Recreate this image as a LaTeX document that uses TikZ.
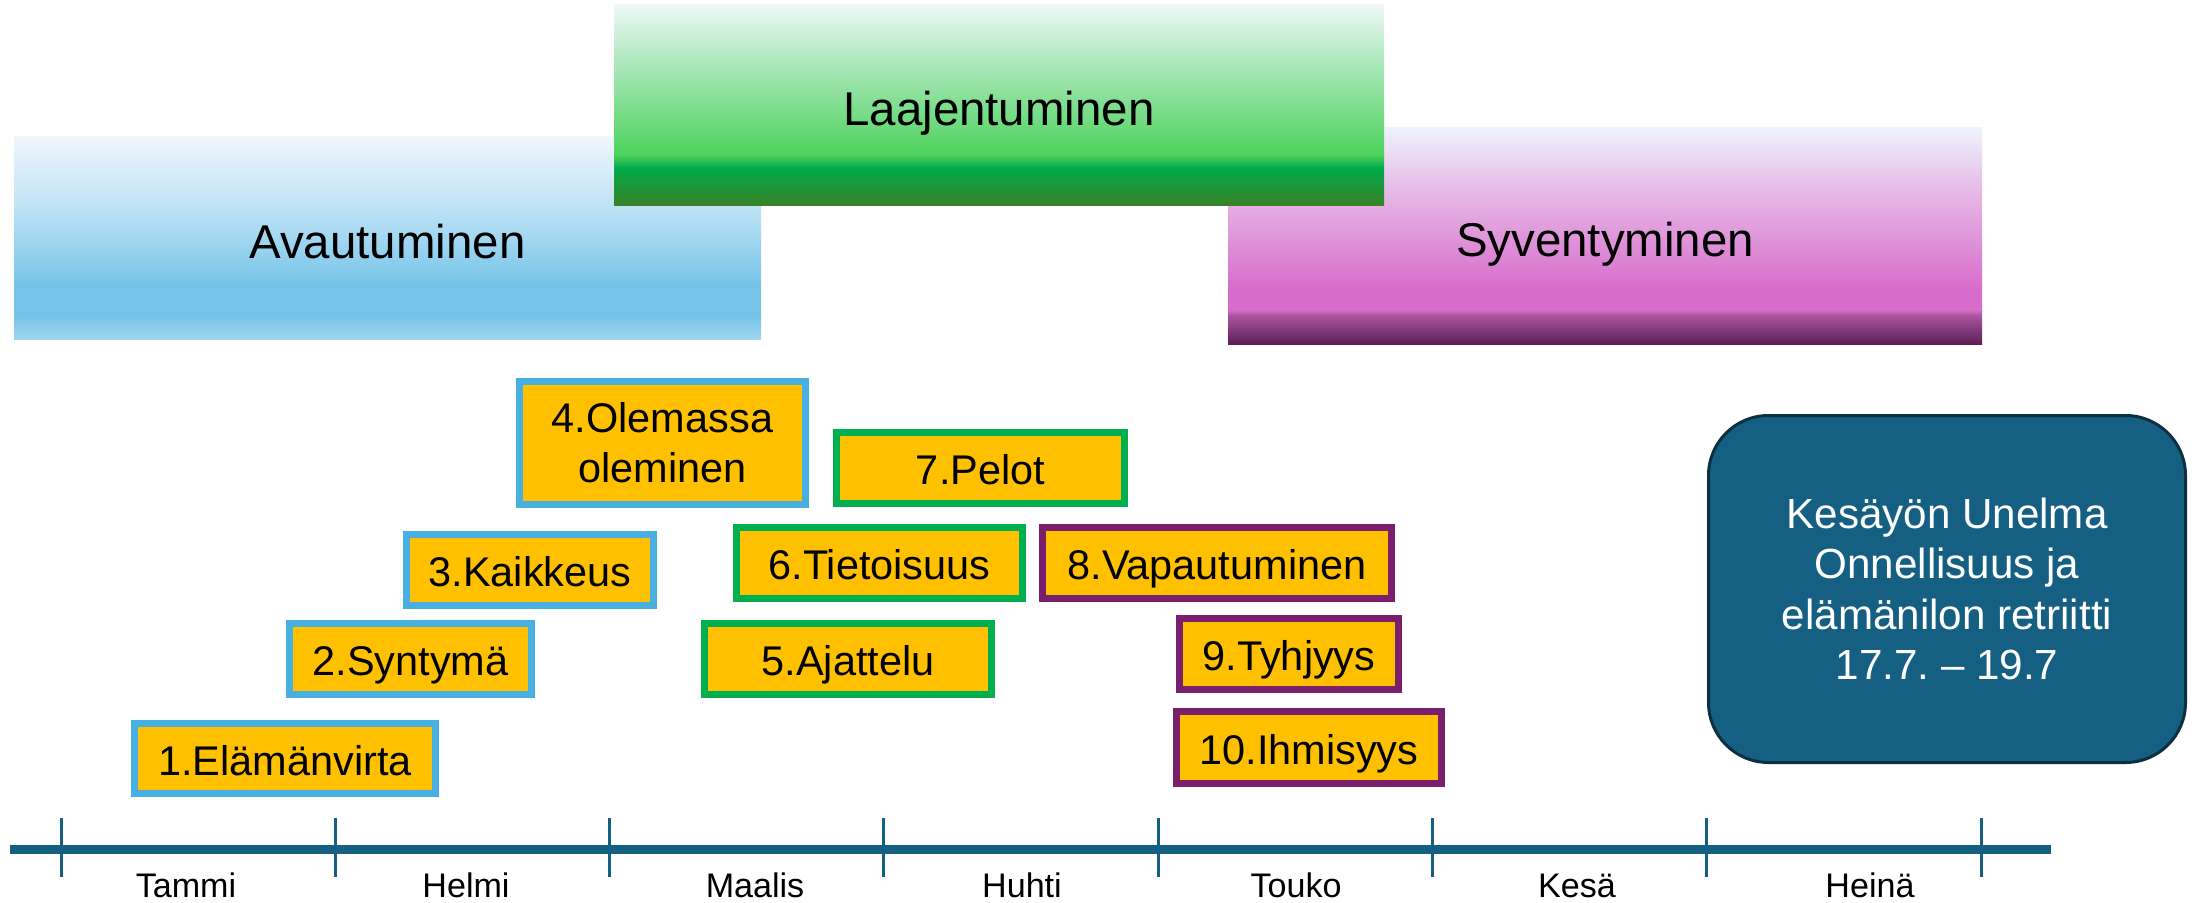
\documentclass[tikz,border=0pt]{standalone}
\usepackage{fontspec}
\setmainfont{Liberation Sans}
\usepackage{xcolor}
\usepackage{tikz}
\usetikzlibrary{shadings}
\frenchspacing

\definecolor{kulta}{HTML}{FFC000}
\definecolor{sininen}{HTML}{48B0E0}
\definecolor{vihrea}{HTML}{00B050}
\definecolor{violetti}{HTML}{7A1F6C}
\definecolor{petroli}{HTML}{156082}
\definecolor{petroliT}{HTML}{0B3041}

\definecolor{avT}{HTML}{EEF6FC}
\definecolor{avL}{HTML}{BEE3F5}
\definecolor{avM}{HTML}{75C3E8}
\definecolor{avB}{HTML}{9FD5F0}
\definecolor{laT}{HTML}{EEF8F8}
\definecolor{laL}{HTML}{A9E7B9}
\definecolor{laM}{HTML}{4DD25C}
\definecolor{laD}{HTML}{00AA4A}
\definecolor{laB}{HTML}{3A8126}
\definecolor{syT}{HTML}{EEF3FC}
\definecolor{syL}{HTML}{E6B8E6}
\definecolor{syM}{HTML}{D76CCA}
\definecolor{syD}{HTML}{A9559F}
\definecolor{syB}{HTML}{5C1D57}

\pgfdeclareverticalshading{avaus}{100bp}{color(0bp)=(avB); color(25bp)=(avB); color(31bp)=(avM); color(38bp)=(avM); color(57.5bp)=(avL); color(75bp)=(avT); color(100bp)=(avT)}
\pgfdeclareverticalshading{laajennus}{100bp}{color(0bp)=(laB); color(25bp)=(laB); color(34.5bp)=(laD); color(37.7bp)=(laM); color(60bp)=(laL); color(75bp)=(laT); color(100bp)=(laT)}
\pgfdeclareverticalshading{syvennys}{100bp}{color(0bp)=(syB); color(25bp)=(syB); color(31.6bp)=(syD); color(32.9bp)=(syM); color(37.5bp)=(syM); color(60bp)=(syL); color(75bp)=(syT); color(100bp)=(syT)}

\begin{document}
\begin{tikzpicture}[x=0.1mm, y=-0.1mm, line width=0.7mm,
  phase/.style={font=\fontsize{13.5}{16}\selectfont, text height=13pt, text depth=1.6pt},
  lbl/.style={font=\fontsize{11.8}{14.2}\selectfont, text height=11.2pt, text depth=1.8pt},
  lbl2/.style={font=\fontsize{11.8}{14.2}\selectfont, align=center},
  avbox/.style={draw=sininen, fill=kulta},
  labox/.style={draw=vihrea, fill=kulta},
  sybox/.style={draw=violetti, fill=kulta},
  retr/.style={draw=petroliT, fill=petroli, line width=0.3mm, rounded corners=6mm},
  retrtext/.style={text=white, align=center, font=\fontsize{12}{14.3}\selectfont},
  aika/.style={draw=petroli, line width=0.9mm},
  tick/.style={draw=petroli, line width=0.3mm},
  kk/.style={font=\fontsize{9.7}{11}\selectfont, anchor=base}]
\useasboundingbox (0,0) rectangle (2200,903);

\shade[shading=avaus] (14,137) rectangle node (avaut) [phase] {Avautuminen} (761,339);
\shade[shading=syvennys] (1228,128) rectangle node (syvent) [phase] {Syventyminen} (1982,344);
\shade[shading=laajennus] (614,5) rectangle node (laajen) [phase] {Laajentuminen} (1384,206);

\draw[avbox] (134.5,723.5) rectangle node (t1) [lbl] {1.Elämänvirta} ++(301,70);
\draw[avbox] (289.5,623.5) rectangle node (t2) [lbl] {2.Syntymä} ++(242,71);
\draw[avbox] (406.5,534.5) rectangle node (t3) [lbl] {3.Kaikkeus} ++(247,71);
\draw[avbox] (519.5,381.5) rectangle node (t4) [lbl2] {4.Olemassa\\oleminen} ++(286,123);

\draw[labox] (704.5,623.5) rectangle node (t5) [lbl] {5.Ajattelu} ++(287,71);
\draw[labox] (736.5,527.5) rectangle node (t6) [lbl] {6.Tietoisuus} ++(286,71);
\draw[labox] (836.5,432.5) rectangle node (t7) [lbl] {7.Pelot} ++(288,71);

\draw[sybox] (1042.5,527.5) rectangle node (t8) [lbl] {8.Vapautuminen} ++(349,71);
\draw[sybox] (1179.5,618.5) rectangle node (t9) [lbl] {9.Tyhjyys} ++(219,71);
\draw[sybox] (1176.5,711.5) rectangle node (t10) [lbl] {10.Ihmisyys} ++(265,72);

\draw[retr] (1708.5,415.5) rectangle node (kesa) [retrtext] {Kesäyön Unelma\\Onnellisuus ja\\elämänilon retriitti\\17.7. – 19.7} ++(477,347);

\coordinate (axstart) at (10,849);
\coordinate (axend) at (2051,849);
\draw[aika] (axstart) -- (axend);
\foreach \i in {0,...,7}
  \draw[tick] (61+274.3*\i,818) -- ++(0,59);
\foreach \x/\m [count=\n] in {186/Tammi,466/Helmi,755/Maalis,1022/Huhti,1296/Touko,1577/Kesä,1870/Heinä}
  \node (m\n) at (\x,897) [kk] {\m};
\end{tikzpicture}
\end{document}
